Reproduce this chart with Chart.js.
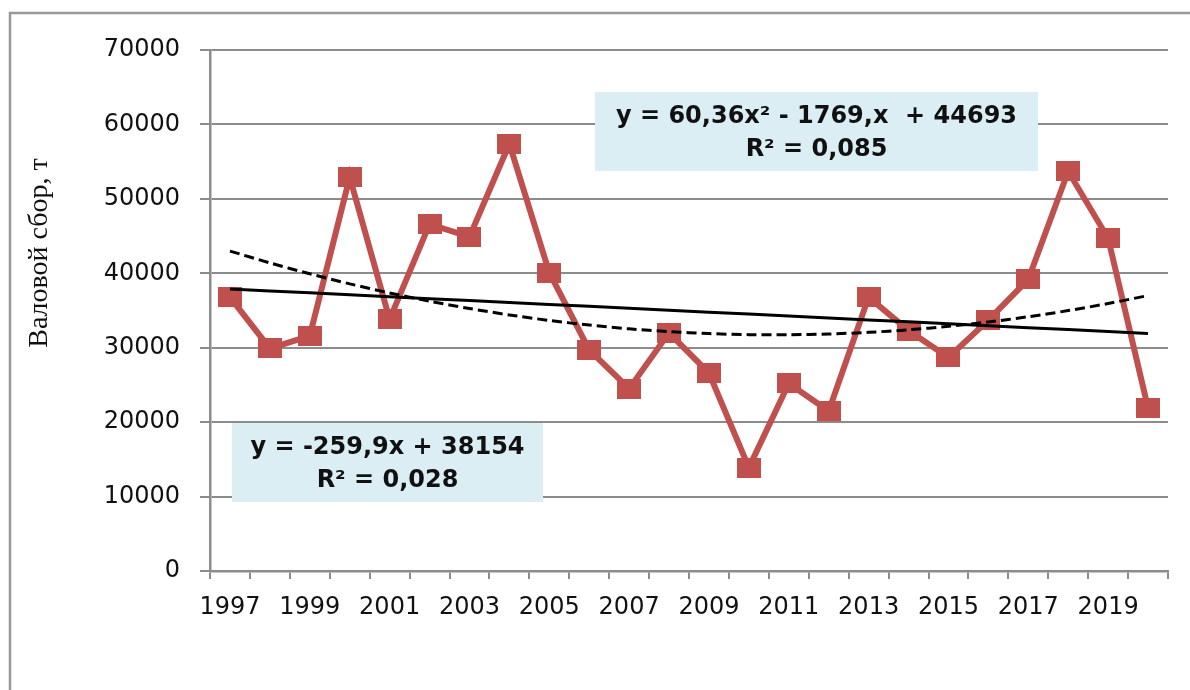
<!DOCTYPE html>
<html>
<head>
<meta charset="utf-8">
<script src="https://cdn.jsdelivr.net/npm/chart.js@4.4.1/dist/chart.umd.min.js"></script>
<style>
  html, body { margin: 0; padding: 0; background: #fff; }
  #wrap { position: relative; width: 1190px; height: 690px; }
</style>
</head>
<body>
<div id="wrap"><canvas id="chart" width="1190" height="690"></canvas></div>
<script>
const years = ['1997', '1998', '1999', '2000', '2001', '2002', '2003', '2004', '2005', '2006', '2007', '2008',
  '2009', '2010', '2011', '2012', '2013', '2014', '2015', '2016', '2017', '2018', '2019', '2020'];
const harvest = [36800, 29900, 31600, 52900, 33800, 46600, 44900, 57400, 40100, 29700, 24500, 32000,
  26600, 13900, 25200, 21500, 36800, 32300, 28700, 33700, 39200, 53700, 44700, 21900];
// trendline coefficients as printed on the chart (x = 1..24)
const linearCoef = [-259.9, 38154];
const polyCoef = [60.36, -1769, 44693];
const yAxisTitle = 'Валовой сбор, т';
const polyLabel = ['y = 60,36x² - 1769,x  + 44693', 'R² = 0,085'];
const linearLabel = ['y = -259,9x + 38154', 'R² = 0,028'];

const linearTrend = years.map((_, i) => linearCoef[0] * (i + 1) + linearCoef[1]);
const polyTrend = years.map((_, i) => polyCoef[0] * (i + 1) ** 2 + polyCoef[1] * (i + 1) + polyCoef[2]);

const red = '#C0504D';
const gray = '#8c8c8c';

// stretched square marker, like the Excel one
const marker = document.createElement('canvas');
marker.width = 24;
marker.height = 20;
const mctx = marker.getContext('2d');
mctx.fillStyle = red;
mctx.fillRect(0, 0, 24, 20);

const extras = {
  id: 'extras',
  beforeDraw(chart) {
    const ctx = chart.ctx;
    ctx.save();
    ctx.fillStyle = '#fff';
    ctx.fillRect(0, 0, chart.width, chart.height);
    ctx.strokeStyle = '#999';
    ctx.lineWidth = 2.5;
    ctx.strokeRect(10, 13, 1300, 800);
    // axis title
    ctx.translate(40, 253);
    ctx.rotate(-Math.PI / 2);
    ctx.fillStyle = '#111';
    ctx.font = '28px "Liberation Serif", "Times New Roman", serif';
    ctx.textAlign = 'center';
    ctx.textBaseline = 'middle';
    ctx.fillText(yAxisTitle, 0, 0);
    ctx.restore();
  },
  afterDatasetsDraw(chart) {
    const ctx = chart.ctx;
    const boxes = [
      { x: 595, y: 92, w: 443, h: 79, lines: polyLabel },
      { x: 232, y: 423, w: 311, h: 79, lines: linearLabel }
    ];
    ctx.save();
    boxes.forEach(b => {
      ctx.fillStyle = '#DBEEF3';
      ctx.fillRect(b.x, b.y, b.w, b.h);
      ctx.fillStyle = '#111';
      ctx.font = 'bold 24px "DejaVu Sans", Verdana, sans-serif';
      ctx.textAlign = 'center';
      ctx.textBaseline = 'middle';
      ctx.fillText(b.lines[0], b.x + b.w / 2, b.y + 25);
      ctx.fillText(b.lines[1], b.x + b.w / 2, b.y + 58);
    });
    ctx.restore();
  }
};

new Chart(document.getElementById('chart'), {
  type: 'line',
  data: {
    labels: years,
    datasets: [
      {
        label: 'Валовой сбор',
        data: harvest,
        borderColor: red,
        borderWidth: 6,
        pointStyle: marker,
        pointBackgroundColor: red,
        pointBorderColor: red,
        order: 2
      },
      {
        label: 'Линейный тренд',
        data: linearTrend,
        borderColor: '#000',
        borderWidth: 3,
        pointRadius: 0,
        order: 1
      },
      {
        label: 'Полиномиальный тренд',
        data: polyTrend,
        borderColor: '#000',
        borderWidth: 3,
        borderDash: [10, 5],
        pointRadius: 0,
        tension: 0.3,
        order: 1
      }
    ]
  },
  options: {
    responsive: false,
    animation: false,
    layout: { padding: { left: 0, right: 22, top: 50, bottom: 0 } },
    plugins: {
      legend: { display: false },
      tooltip: { enabled: false }
    },
    scales: {
      x: {
        type: 'category',
        offset: true,
        grid: {
          offset: true,
          drawOnChartArea: false,
          color: gray,
          lineWidth: 2,
          tickLength: 8
        },
        border: { color: gray, width: 2.5 },
        ticks: {
          autoSkip: false,
          maxRotation: 0,
          padding: 14,
          color: '#111',
          font: { family: '"DejaVu Sans", Verdana, sans-serif', size: 24 },
          callback: (v, i) => (i % 2 === 0 ? years[i] : '')
        },
        afterFit: s => { s.height = 119; }
      },
      y: {
        min: 0,
        max: 70000,
        grid: {
          color: gray,
          lineWidth: 2,
          tickLength: 10
        },
        border: { color: gray, width: 2.5 },
        ticks: {
          stepSize: 10000,
          padding: 20,
          color: '#111',
          font: { family: '"DejaVu Sans", Verdana, sans-serif', size: 24 },
          callback: v => String(v)
        },
        afterFit: s => { s.width = 210; }
      }
    }
  },
  plugins: [extras]
});
</script>
</body>
</html>
